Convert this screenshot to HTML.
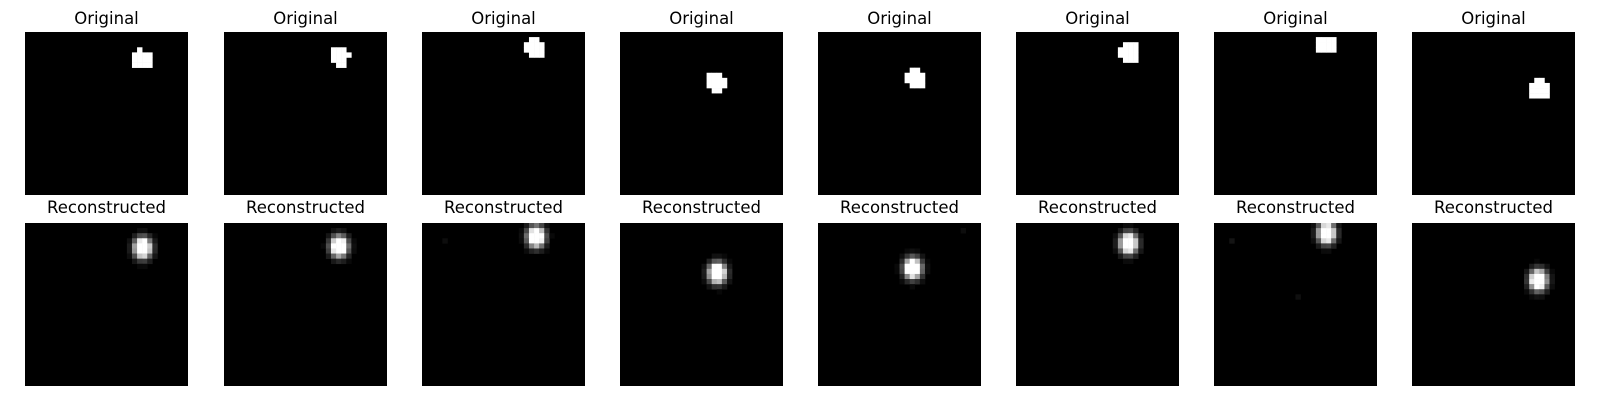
<!DOCTYPE html>
<html><head><meta charset="utf-8"><style>
html,body{margin:0;padding:0;background:#fff;width:1600px;height:400px;overflow:hidden}
svg{display:block}
text{font-family:"DejaVu Sans","Liberation Sans",sans-serif;font-size:16.5px;fill:#000;text-anchor:middle}
</style></head><body>
<svg id="fig" width="1600" height="400"></svg>
<script>
// Data: original blob cells per sample as [row, colStart, colEnd] runs (32x32 grid)
const orig1 = [[3,22,22],[4,21,24],[5,21,24],[6,21,24]];
const orig2 = [[3,21,23],[4,21,24],[5,21,23],[6,22,23]];
const orig3 = [[1,21,22],[2,20,23],[3,20,23],[4,21,23]];
const orig4 = [[8,17,19],[9,17,20],[10,17,20],[11,18,19]];
const orig5 = [[7,18,19],[8,17,20],[9,17,20],[10,18,20]];
const orig6 = [[2,21,23],[3,20,23],[4,20,23],[5,21,23]];
const orig7 = [[1,20,23],[2,20,23],[3,20,23]];
const orig8 = [[9,24,25],[10,23,26],[11,23,26],[12,23,26]];
const originals = [orig1,orig2,orig3,orig4,orig5,orig6,orig7,orig8];
// Reconstructed blob centers (col,row) in grid units
const reconCol = [23.1,22.6,22.4,19.1,18.6,22.1,22.1,24.8];
const reconRow = [4.9,4.6,2.7,9.8,8.9,4.0,2.0,11.2];
// faint artifacts [panel,row,col,intensity]
const faint = [[2,3,4,0.05],[6,3,3,0.08],[6,14,16,0.06],[4,1,28,0.05]];

const N=32, panelW=163, cell=panelW/N;
const panelX=[25,224,422,620,818,1016,1214,1412];
const topY=32, botY=223;
const svg=document.getElementById('fig');
const NS='http://www.w3.org/2000/svg';
function mk(tag,attrs){const e=document.createElementNS(NS,tag);for(const k in attrs)e.setAttribute(k,attrs[k]);return e;}
function cellRect(x0,y0,r,c,v){
  const g=Math.round(v*255);
  return mk('rect',{x:(x0+c*cell).toFixed(2),y:(y0+r*cell).toFixed(2),width:(cell+0.3).toFixed(2),height:(cell+0.3).toFixed(2),fill:`rgb(${g},${g},${g})`});
}
for(let i=0;i<8;i++){
  const x0=panelX[i];
  const t1=mk('text',{x:x0+panelW/2,y:24});t1.textContent='Original';
  
  
  svg.appendChild(t1);
  const t2=mk('text',{x:x0+panelW/2,y:213});t2.textContent='Reconstructed';
  
  
  svg.appendChild(t2);
  const g1=mk('g',{});
  
  
  g1.appendChild(mk('rect',{x:x0,y:topY,width:panelW,height:panelW,fill:'#000'}));
  for(const [r,c0,c1] of originals[i]) for(let c=c0;c<=c1;c++) g1.appendChild(cellRect(x0,topY,r,c,1));
  svg.appendChild(g1);
  const g2=mk('g',{});
  
  
  g2.appendChild(mk('rect',{x:x0,y:botY,width:panelW,height:panelW,fill:'#000'}));
  for(let r=0;r<N;r++)for(let c=0;c<N;c++){
    const dx=c-reconCol[i]+0.5, dy=r-reconRow[i]+0.5;
    let v=1.9*Math.exp(-(dx*dx/(2*1.1*1.1)+dy*dy/(2*1.3*1.3)));
    if(v>1)v=1;
    if(v>0.03) g2.appendChild(cellRect(x0,botY,r,c,v));
  }
  for(const [p,r,c,v] of faint) if(p===i) g2.appendChild(cellRect(x0,botY,r,c,v));
  svg.appendChild(g2);
}
</script>
</body></html>
